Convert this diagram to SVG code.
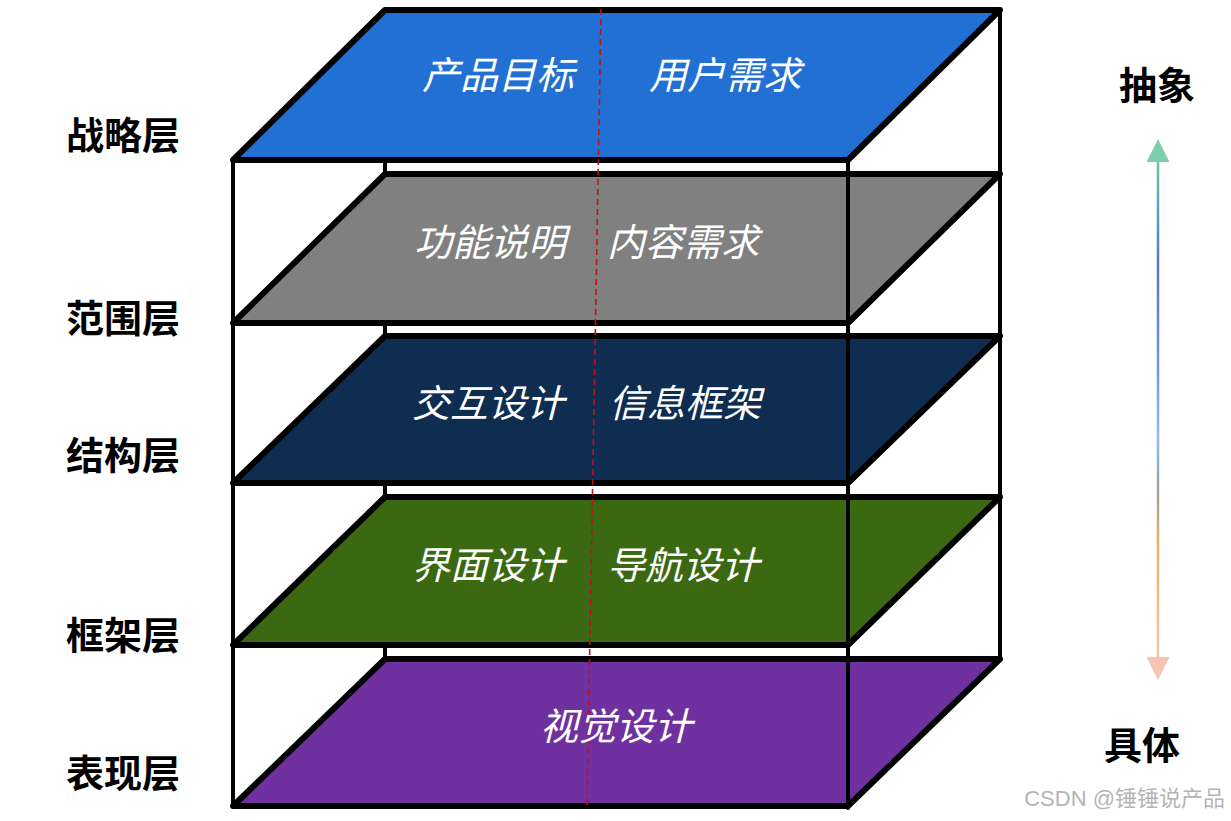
<svg xmlns="http://www.w3.org/2000/svg" width="1231" height="821" viewBox="0 0 1231 821">
  <defs>
    <linearGradient id="arrowGrad" gradientUnits="userSpaceOnUse" x1="0" y1="150" x2="0" y2="670">
      <stop offset="0" stop-color="#6fcaa8"/>
      <stop offset="0.12" stop-color="#4fa6b8"/>
      <stop offset="0.22" stop-color="#5577c8"/>
      <stop offset="0.4" stop-color="#6a95dc"/>
      <stop offset="0.55" stop-color="#8cbcf0"/>
      <stop offset="0.66" stop-color="#a2a2a6"/>
      <stop offset="0.76" stop-color="#e8b262"/>
      <stop offset="1" stop-color="#f7c8b0"/>
    </linearGradient>
  </defs>
  <style>
    .plane { stroke: #000; stroke-width: 6; stroke-linejoin: round; }
    .edge { stroke: #000; stroke-width: 4; fill: none; stroke-linecap: round; }
    .ptext { font-family: "Noto Sans CJK SC", "Noto Sans", sans-serif; font-size: 38px; font-style: italic; font-weight: 400; fill: #fff; text-anchor: middle; }
    .label { font-family: "Noto Sans CJK SC", "Noto Sans", sans-serif; font-size: 38px; font-weight: 700; fill: #000; text-anchor: middle; }
    .wm { font-family: "Liberation Sans", "Noto Sans CJK SC", sans-serif; font-size: 22px; fill: #b4b4b4; text-anchor: end; }
  </style>
  <rect width="1231" height="821" fill="#fff"/>

  <g id="back-edges">
    <line class="edge" x1="385" y1="10" x2="385" y2="659"/>
    <line class="edge" x1="1000" y1="10" x2="1000" y2="659"/>
  </g>

  <g id="plane-strategy">
    <polygon class="plane" fill="#2270d3" points="385,10 1000,10 848,160 233,160"/>
  </g>
  <g id="plane-scope">
    <polygon class="plane" fill="#808080" points="385,174 1000,174 848,323 233,323"/>
  </g>
  <g id="plane-structure">
    <polygon class="plane" fill="#0e2d51" points="385,336 1000,336 848,483 233,483"/>
  </g>
  <g id="plane-skeleton">
    <polygon class="plane" fill="#3a6912" points="385,497 1000,497 848,645 233,645"/>
  </g>
  <g id="plane-surface">
    <polygon class="plane" fill="#6f30a0" points="385,659 1000,659 848,806 233,806"/>
  </g>

  <g id="front-edges">
    <line class="edge" x1="233" y1="160" x2="233" y2="806"/>
    <line class="edge" x1="848" y1="160" x2="848" y2="808"/>
  </g>

  <g id="connectors">
    <line x1="601" y1="9" x2="587" y2="805" stroke="#c0101a" stroke-width="1.6" stroke-dasharray="6,4"/>
    <line x1="1158" y1="158" x2="1158" y2="660" stroke="url(#arrowGrad)" stroke-width="2.5"/>
    <polygon points="1158,139 1146.5,162 1169.5,162" fill="#7ccfae"/>
    <polygon points="1146.5,657 1169.5,657 1158,680" fill="#f7c3b3"/>
  </g>

  <g id="plane-texts">
    <text class="ptext" x="498" y="89">产品目标</text>
    <text class="ptext" x="725" y="89">用户需求</text>
    <text class="ptext" x="490" y="256">功能说明</text>
    <text class="ptext" x="683" y="256">内容需求</text>
    <text class="ptext" x="488" y="417">交互设计</text>
    <text class="ptext" x="685" y="417">信息框架</text>
    <text class="ptext" x="488" y="579">界面设计</text>
    <text class="ptext" x="683" y="579">导航设计</text>
    <text class="ptext" x="616" y="740">视觉设计</text>
  </g>

  <g id="layer-labels">
    <text class="label" x="123" y="149">战略层</text>
    <text class="label" x="123" y="332">范围层</text>
    <text class="label" x="123" y="469">结构层</text>
    <text class="label" x="123" y="649">框架层</text>
    <text class="label" x="123" y="787">表现层</text>
  </g>

  <g id="axis-labels">
    <text class="label" x="1157" y="99">抽象</text>
    <text class="label" x="1142" y="759">具体</text>
  </g>

  <g id="watermark">
    <text class="wm" x="1225" y="806">CSDN @锤锤说产品</text>
  </g>
</svg>
